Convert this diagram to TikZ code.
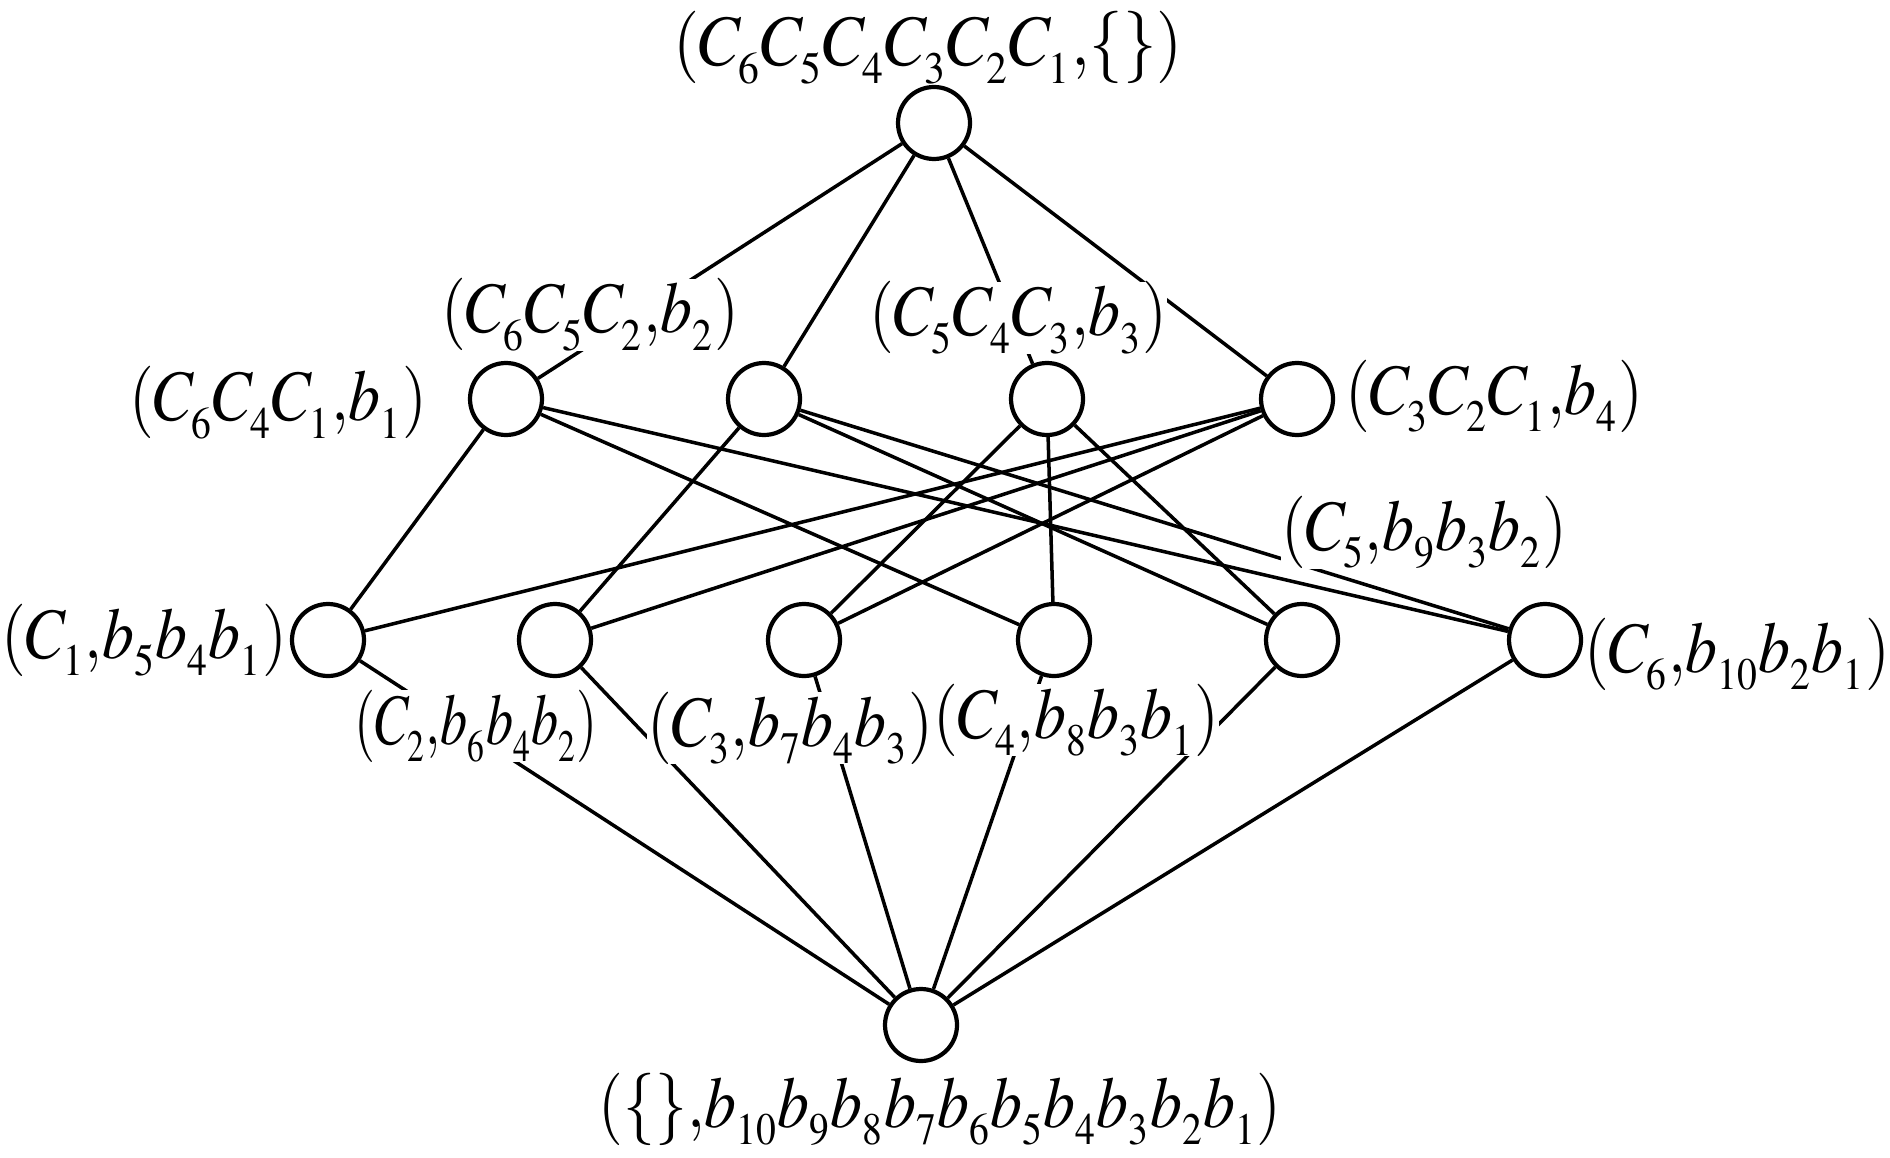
\documentclass[tikz,border=0pt]{standalone}
\usepackage{mathptmx}
\usetikzlibrary{positioning}
\pgfdeclarelayer{back}
\pgfsetlayers{back,main}
\DeclareMathSizes{20.6}{20.6}{12.8}{10}
\newcommand{\lowsub}[1]{$\fontdimen16\textfont2=5pt\relax #1$}
\tikzset{
  vtx/.style={circle, draw, line width=1.2pt, minimum size=7.2mm, inner sep=0pt, fill=white},
  lab/.style={fill=white, inner sep=0pt, anchor=base, xscale=0.88, font=\fontsize{20.6}{24}\selectfont},
  link/.style={line width=1pt}
}
\begin{document}
\begin{tikzpicture}[x=0.1mm, y=-0.1mm]
  \useasboundingbox (0,0) rectangle (1890,1157);

  % Labels
  \node[lab, xscale=1.05] (ltop) at (928,66) {\lowsub{(C_6C_5C_4C_3C_2C_1{,}\{\})}};
  \node[lab] (lu1) at (278,421) {\lowsub{(C_6C_4C_1{,}b_1)}};
  \node[lab] (lu2) at (590,333) {\lowsub{(C_6C_5C_2{,}b_2)}};
  \node[lab] (lu3) at (1018,336) {\lowsub{(C_5C_4C_3{,}b_3)}};
  \node[lab] (lu4) at (1494,414) {\lowsub{(C_3C_2C_1{,}b_4)}};
  \node[lab] (lv1) at (144,658) {\lowsub{(C_1{,}b_5b_4b_1)}};
  \node[lab, xscale=0.85] (lv2) at (476,744) {\lowsub{(C_2{,}b_6b_4b_2)}};
  \node[lab] (lv3) at (790,746) {\lowsub{(C_3{,}b_7b_4b_3)}};
  \node[lab] (lv4) at (1076,738) {\lowsub{(C_4{,}b_8b_3b_1)}};
  \node[lab] (lv5) at (1424,550) {\lowsub{(C_5{,}b_9b_3b_2)}};
  \node[lab] (lv6) at (1737,672) {\lowsub{(C_6{,}b_{10}b_2b_1)}};
  \node[lab] (lbot) at (940,1127) {\lowsub{(\{\}{,}b_{10}b_9b_8b_7b_6b_5b_4b_3b_2b_1)}};

  % Vertices
  \node[vtx] (t) at (934,123) {};
  \foreach \n/\x in {1/506, 2/764, 3/1047, 4/1297}
    \node[vtx] (u\n) at (\x,399) {};
  \foreach \n/\x in {1/328, 2/555, 3/804, 4/1054, 5/1302, 6/1545}
    \node[vtx] (v\n) at (\x,640) {};
  \node[vtx] (z) at (921,1025) {};

  % Edges
  \begin{pgfonlayer}{back}
    \foreach \n in {1,...,4}
      \draw[link] (t) -- (u\n);
    \foreach \a/\b in {1/1, 1/4, 1/6, 2/2, 2/5, 2/6, 3/3, 3/4, 3/5, 4/1, 4/2, 4/3}
      \draw[link] (u\a) -- (v\b);
    \foreach \n in {1,...,6}
      \draw[link] (v\n) -- (z);
  \end{pgfonlayer}
\end{tikzpicture}
\end{document}
